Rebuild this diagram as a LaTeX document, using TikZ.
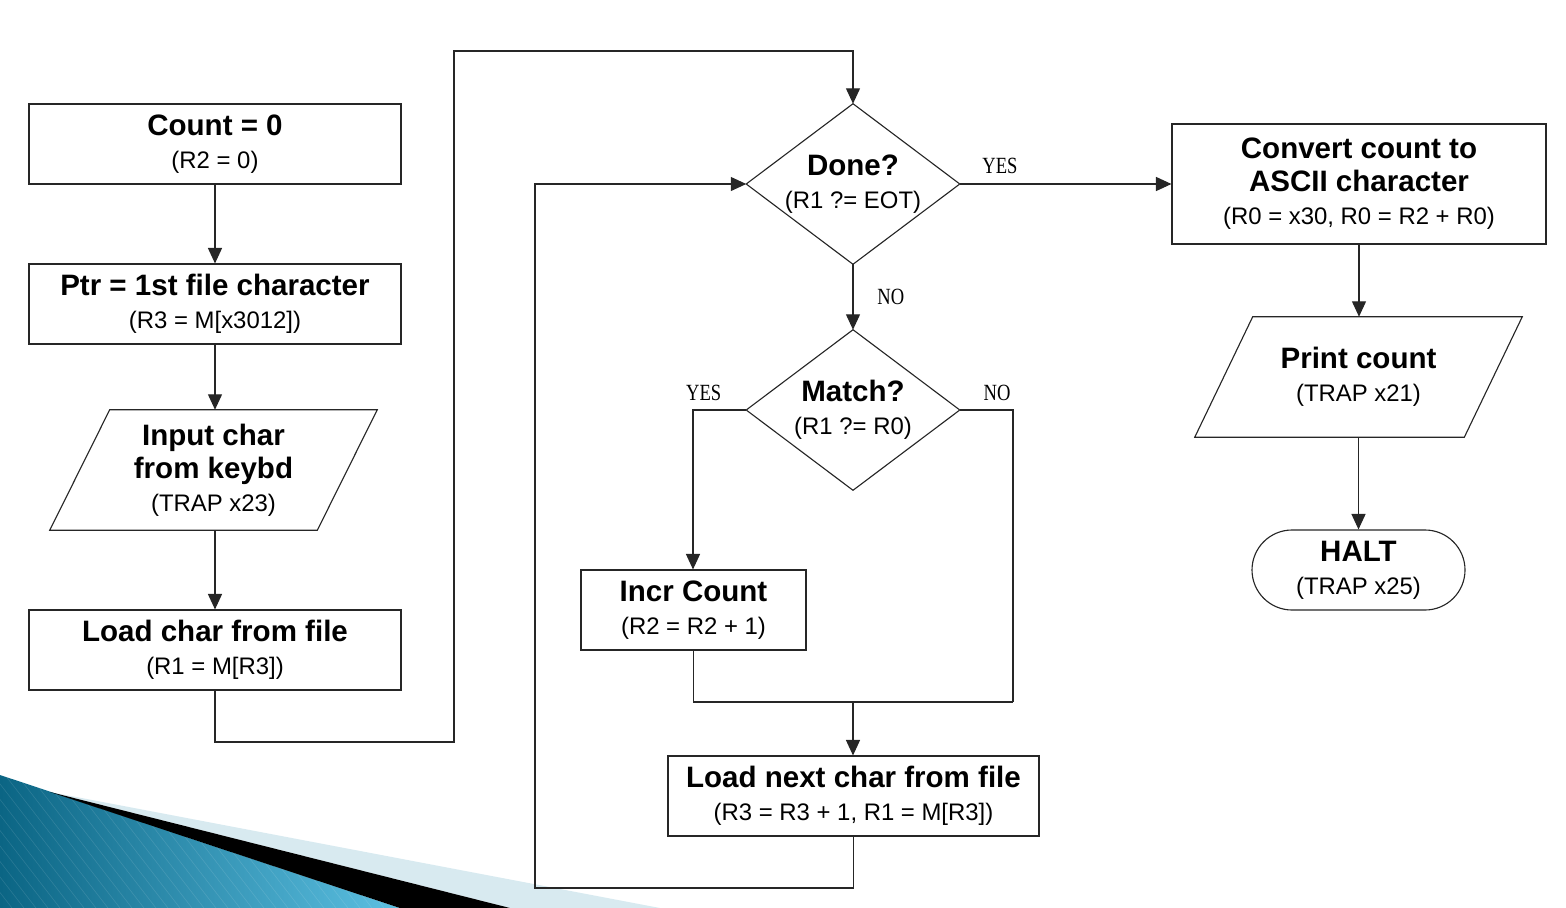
\documentclass[tikz,border=0pt]{standalone}
\usepackage{fontspec}
\usepackage{graphicx}
\setmainfont{Liberation Sans}
\newfontfamily\lblfont{Liberation Serif}
\usetikzlibrary{arrows.meta}
\newdimen\pxu \pxu=0.025cm
\newcommand\bt[1]{{\fontsize{21}{23}\selectfont\bfseries #1}}
\definecolor{tealdark}{HTML}{0B6584}
\definecolor{teallight}{HTML}{5CC0E2}
\definecolor{paleblue}{HTML}{D8EAF0}
\begin{document}
\begin{tikzpicture}[x=0.025cm,y=-0.025cm,
  every node/.style={font=\fontsize{17}{23.5}\selectfont},
  box/.style={draw=black!85, line width=0.8pt, rectangle, align=center, inner sep=0pt},
  ghost/.style={rectangle, align=center, inner sep=0pt},
  shp/.style={draw=black!85, line width=0.8pt},
  line/.style={draw=black!85, line width=0.8pt},
  arr/.style={line, -{Triangle[length=11pt,width=10pt]}},
  lbl/.style={font=\lblfont\fontsize{16.5}{18}\selectfont, inner sep=1pt}]
\useasboundingbox (0,0) rectangle (1566,908);

% decoration bottom-left
\fill[paleblue] (50,792) -- (660,908) -- (510,908) -- cycle;
\shade[left color=tealdark, right color=teallight] (0,775) -- (400,908) -- (0,908) -- cycle;
\begin{scope}
\clip (0,775) -- (400,908) -- (0,908) -- cycle;
\foreach \i in {0,12,...,520} {\draw[white, opacity=0.12, line width=0.4pt] (\i,908) -- (\i-130,740);}
\end{scope}
\fill[black] (50,792) -- (510,908) -- (400,908) -- cycle;

% nodes
\node[box, minimum width=372\pxu, minimum height=80\pxu] (count) at (215,144) {\bt{Count = 0}\\(R2 = 0)};
\node[box, minimum width=372\pxu, minimum height=80\pxu] (ptr) at (215,304) {\bt{Ptr = 1st file character}\\(R3 = M[x3012])};
\node[ghost, minimum width=327\pxu, minimum height=120\pxu] (inp) at (213.5,470) {\bt{Input char}\\\bt{from keybd}\\(TRAP x23)};
\draw[shp] (inp.south west) -- ([xshift=60\pxu]inp.north west) -- (inp.north east) -- ([xshift=-60\pxu]inp.south east) -- cycle;
\node[box, minimum width=372\pxu, minimum height=80\pxu] (load) at (215,650) {\bt{Load char from file}\\(R1 = M[R3])};

\node[ghost, minimum width=213\pxu, minimum height=160\pxu] (done) at (853,184) {\bt{Done?}\\(R1 ?= EOT)};
\draw[shp] (done.north) -- (done.east) -- (done.south) -- (done.west) -- cycle;
\node[ghost, minimum width=213\pxu, minimum height=160\pxu] (match) at (853,410) {\bt{Match?}\\(R1 ?= R0)};
\draw[shp] (match.north) -- (match.east) -- (match.south) -- (match.west) -- cycle;
\node[box, minimum width=225\pxu, minimum height=80\pxu] (incr) at (693.5,610) {\bt{Incr Count}\\(R2 = R2 + 1)};
\node[box, minimum width=371\pxu, minimum height=80\pxu] (nxt) at (853.5,796) {\bt{Load next char from file}\\(R3 = R3 + 1, R1 = M[R3])};

\node[box, minimum width=374\pxu, minimum height=120\pxu] (conv) at (1359,184) {\bt{Convert count to}\\\bt{ASCII character}\\(R0 = x30, R0 = R2 + R0)};
\node[ghost, minimum width=327\pxu, minimum height=120\pxu] (print) at (1358.5,377) {\bt{Print count}\\(TRAP x21)};
\draw[shp] (print.south west) -- ([xshift=58\pxu]print.north west) -- (print.north east) -- ([xshift=-58\pxu]print.south east) -- cycle;
\node[box, rounded corners=40\pxu, minimum width=213\pxu, minimum height=80\pxu] (halt) at (1358.5,570) {\bt{HALT}\\(TRAP x25)};

% helper coordinates
\coordinate (c1) at (454,742);
\coordinate (c2) at (454,51);
\coordinate (c3) at (1013,702);
\coordinate (c4) at (853,702);
\coordinate (c5) at (535,888);

% connectors
\draw[arr] (count.south) -- (ptr.north);
\draw[arr] (ptr.south) -- (ptr.south |- inp.north);
\draw[arr] (load.north |- inp.south) -- (load.north);
\draw[arr] (load.south) |- (c1) -- (c2) -| (done.north);
\draw[arr] (done.east) -- node[lbl, pos=0.19, above=6pt] {\scalebox{0.8}[1]{YES}} (conv.west);
\draw[arr] (conv.south) -- (conv.south |- print.north);
\draw[arr] (print.south) -- (halt.north);
\draw[arr] (done.south) -- node[lbl, pos=0.5, right=16pt] {\scalebox{0.8}[1]{NO}} (match.north);
\draw[arr] (match.west) -| node[lbl, pos=0.4, above=5pt] {\scalebox{0.8}[1]{YES}} ([xshift=-0.5\pxu]incr.north);
\draw[line] (match.east) -| node[lbl, pos=0.35, above=5pt] {\scalebox{0.8}[1]{NO}} (c3);
\draw[line] (incr.south) |- (c3);
\draw[arr] (c4) -- (c4 |- nxt.north);
\draw[arr] (nxt.south) |- (c5) |- (done.west);
\end{tikzpicture}
\end{document}
